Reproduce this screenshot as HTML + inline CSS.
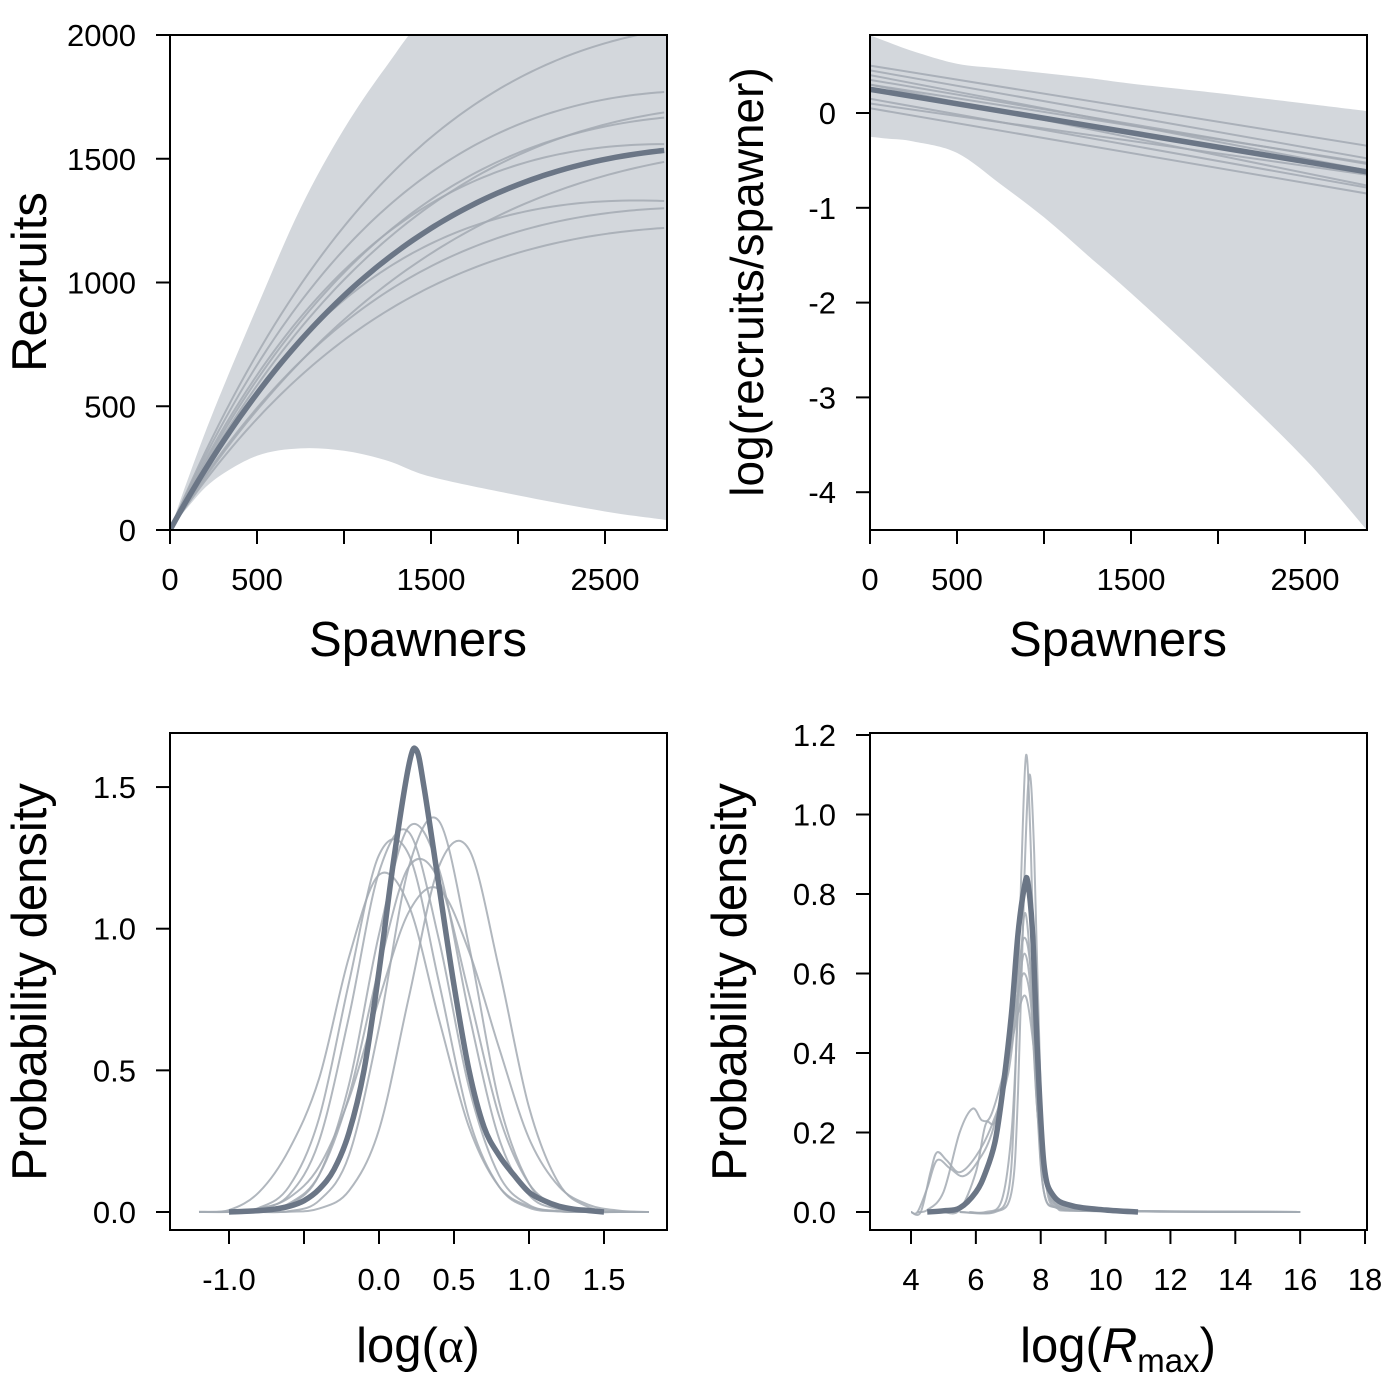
<!DOCTYPE html>
<html><head><meta charset="utf-8"><style>
html,body{margin:0;padding:0;background:#fff;}
svg{display:block;font-family:"Liberation Sans",sans-serif;}
</style></head><body>
<svg id="chart" width="1400" height="1400" viewBox="0 0 1400 1400" xmlns="http://www.w3.org/2000/svg">
<defs>
<clipPath id="c1"><rect x="170" y="35" width="497" height="495"/></clipPath>
<clipPath id="c2"><rect x="870" y="35" width="497" height="495"/></clipPath>
</defs>
</svg>
<script>
// ---- Panel 1/2: Ricker parameters (log alpha, beta x1e-4)
const medLogAlpha = 0.25;
const medBeta = 3.05;
const thinLogAlpha = [0.5, 0.45, 0.3, 0.35, 0.4, 0.1, 0.3, 0.15, 0.05];
const thinBeta = [2.96, 3.25, 2.89, 3.11, 3.52, 2.63, 3.73, 3.28, 3.15];
// credible band, panel 1 (recruits)
const bandS = [0, 100, 250, 500, 750, 1000, 1250, 1500, 2000, 2500, 2856];
const bandRUpper = [0, 200, 480, 900, 1300, 1620, 1880, 2100, 2400, 2500, 2600];
const bandRLower = [0, 90, 200, 300, 330, 320, 280, 215, 140, 75, 40];
// credible band, panel 2 (log R/S)
const bandLUpper = [0.82, 0.75, 0.65, 0.52, 0.47, 0.42, 0.37, 0.31, 0.21, 0.1, 0.02];
const bandLLower = [-0.25, -0.27, -0.3, -0.42, -0.75, -1.1, -1.5, -1.9, -2.75, -3.65, -4.4];
// ticks
const p1YTicks = [0, 500, 1000, 1500, 2000];
const spawnTicks = [0, 500, 1000, 1500, 2000, 2500];
const spawnLabels = ["0", "500", "", "1500", "", "2500"];
const p2YTicks = [0, -1, -2, -3, -4];
// ---- Panel 3: log(alpha) densities
const aGrid = [-1.2,-1.0,-0.8,-0.6,-0.4,-0.2,0,0.2,0.4,0.6,0.8,1.0,1.2,1.4,1.6,1.8];
const aThin = [
 [0,0.001,0.01,0.06,0.25,0.69,1.2,1.34,0.96,0.44,0.13,0.025,0.003,0,0,0],
 [0,0,0.003,0.025,0.13,0.45,0.98,1.36,1.21,0.70,0.26,0.06,0.01,0,0,0],
 [0,0,0,0.003,0.04,0.2,0.65,1.22,1.38,0.94,0.39,0.1,0.014,0.001,0,0],
 [0,0,0,0.001,0.012,0.075,0.29,0.76,1.22,1.28,0.86,0.37,0.10,0.017,0.002,0],
 [0,0,0.004,0.03,0.13,0.41,0.86,1.22,1.17,0.77,0.34,0.10,0.02,0.002,0,0],
 [0.001,0.007,0.07,0.22,0.47,0.9,1.19,1.08,0.68,0.3,0.09,0.02,0.002,0,0,0],
 [0,0.002,0.015,0.09,0.33,0.81,1.26,1.26,0.81,0.33,0.09,0.015,0.002,0,0,0],
 [0,0.001,0.012,0.05,0.16,0.4,0.75,1.06,1.14,0.92,0.58,0.26,0.09,0.025,0.005,0]
];
const aMedX = [-1.0,-0.9,-0.8,-0.7,-0.6,-0.5,-0.4,-0.3,-0.2,-0.1,0.0,0.1,0.2,0.25,0.3,0.4,0.5,0.6,0.7,0.8,0.9,1.0,1.1,1.2,1.3,1.4,1.5];
const aMedY = [0,0.002,0.005,0.01,0.02,0.04,0.08,0.15,0.28,0.5,0.85,1.25,1.58,1.63,1.5,1.15,0.8,0.5,0.3,0.2,0.13,0.07,0.04,0.02,0.01,0.005,0];
const p3XTicks = [-1.0,-0.5,0.0,0.5,1.0,1.5];
const p3XLabels = ["-1.0","","0.0","0.5","1.0","1.5"];
const p3YTicks = [0,0.5,1.0,1.5];
// ---- Panel 4: log(Rmax) densities
const rMedX = [4.5,5,5.5,6,6.3,6.6,6.85,7.1,7.3,7.5,7.6,7.75,7.9,8.1,8.4,9,10,11];
const rMedY = [0,0.003,0.01,0.05,0.1,0.18,0.32,0.5,0.7,0.82,0.83,0.7,0.4,0.12,0.04,0.015,0.005,0];
const rThinX = [
 [5.5,6.5,7,7.2,7.4,7.55,7.7,7.9,8.1,8.5,9,12,16],
 [5.8,6.6,7.1,7.3,7.5,7.65,7.8,8.0,8.2,8.6,9.2,12,16],
 [4.0,4.3,4.6,4.8,5.1,5.5,6,6.5,7,7.3,7.5,7.7,7.9,8.2,8.6,9.5,12,16],
 [4.2,4.5,5,5.5,5.9,6.2,6.5,7,7.3,7.5,7.7,7.9,8.2,8.6,10,13,16],
 [4.0,4.2,4.5,4.8,5.2,5.6,6,6.5,7,7.3,7.55,7.8,8,8.3,8.7,10,14],
 [5.0,5.5,6,6.3,6.6,7,7.3,7.5,7.7,7.9,8.2,8.6,10,15],
 [5.5,6.3,6.8,7.1,7.3,7.5,7.7,7.9,8.1,8.5,9.5,12,16]
];
const rThinY = [
 [0,0,0.05,0.3,0.85,1.15,0.9,0.3,0.05,0.01,0.003,0.001,0],
 [0,0,0.05,0.3,0.85,1.1,0.9,0.3,0.05,0.01,0.003,0.001,0],
 [0,0,0.1,0.15,0.13,0.1,0.14,0.22,0.35,0.55,0.65,0.55,0.25,0.06,0.02,0.005,0.002,0],
 [0,0.005,0.05,0.2,0.26,0.23,0.25,0.4,0.55,0.6,0.52,0.25,0.06,0.01,0.003,0.001,0],
 [0,0,0.06,0.13,0.11,0.09,0.12,0.2,0.38,0.5,0.54,0.4,0.2,0.05,0.01,0.003,0],
 [0,0.005,0.1,0.22,0.23,0.38,0.6,0.69,0.6,0.3,0.07,0.015,0.003,0],
 [0,0,0.03,0.2,0.5,0.75,0.6,0.25,0.05,0.01,0.003,0.001,0]
];
const p4XTicks = [4,6,8,10,12,14,16,18];
const p4YTicks = [0,0.2,0.4,0.6,0.8,1.0,1.2];

const NS = "http://www.w3.org/2000/svg";
const svg = document.getElementById("chart");
function mk(tag, attrs, parent) {
  const e = document.createElementNS(NS, tag);
  for (const k in attrs) e.setAttribute(k, attrs[k]);
  (parent || svg).appendChild(e);
  return e;
}
function smooth(pts) {
  let d = "M" + pts[0][0].toFixed(2) + "," + pts[0][1].toFixed(2);
  for (let i = 0; i < pts.length - 1; i++) {
    const p0 = pts[Math.max(i - 1, 0)], p1 = pts[i], p2 = pts[i + 1], p3 = pts[Math.min(i + 2, pts.length - 1)];
    const c1 = [p1[0] + (p2[0] - p0[0]) / 6, p1[1] + (p2[1] - p0[1]) / 6];
    const c2 = [p2[0] - (p3[0] - p1[0]) / 6, p2[1] - (p3[1] - p1[1]) / 6];
    d += "C" + c1[0].toFixed(2) + "," + c1[1].toFixed(2) + " " + c2[0].toFixed(2) + "," + c2[1].toFixed(2) + " " + p2[0].toFixed(2) + "," + p2[1].toFixed(2);
  }
  return d;
}
const THIN = "#a3aab3", THICK = "#6b7686", BAND = "#d3d7dc";

// scales
const x1 = s => 170 + s * 0.174;
const y1 = r => 530 - r * 0.2475;
const x2 = s => 870 + s * 0.174;
const y2 = v => 113 - v * 94.8;
const x3 = v => 379 + v * 150;
const y3 = v => 1212 - v * 283.3;
const x4 = v => 911 + (v - 4) * 32.43;
const y4 = v => 1212 - v * 397.5;

function frame(x, y, name) {
  const r = mk("rect", {x: x, y: y, width: 497, height: 495, fill: "none", stroke: "#000", "stroke-width": 2});
  
  
}
function xTicks(vals, labels, sx, name) {
  const g = mk("g", {});
  
  
  vals.forEach((v, i) => {
    const yb = name.indexOf("p3") === 0 || name.indexOf("p4") === 0 ? 1230 : 530;
    mk("line", {x1: sx(v), x2: sx(v), y1: yb, y2: yb + 14, stroke: "#000", "stroke-width": 2}, g);
    if (labels[i] !== "") {
      const t = mk("text", {x: sx(v), y: yb + 60, "text-anchor": "middle", "font-size": 31}, g);
      t.textContent = labels[i];
    }
  });
}
function yTicks(vals, labels, sy, xl, name) {
  const g = mk("g", {});
  
  
  vals.forEach((v, i) => {
    mk("line", {x1: xl, x2: xl - 14, y1: sy(v), y2: sy(v), stroke: "#000", "stroke-width": 2}, g);
    const t = mk("text", {x: xl - 34, y: sy(v) + 11, "text-anchor": "end", "font-size": 31}, g);
    t.textContent = labels[i];
  });
}
function title(x, y, txt, rot, name, size) {
  const t = mk("text", {x: x, y: y, "text-anchor": "middle", "font-size": size || 49, transform: rot ? "rotate(-90 " + x + " " + y + ")" : ""});
  t.innerHTML = txt;
  
  
  return t;
}

// ===== Panel 1
{
  const g = mk("g", {"clip-path": "url(#c1)"});
  
  
  const up = bandS.map((s, i) => [x1(s), y1(bandRUpper[i])]);
  const lo = bandS.map((s, i) => [x1(s), y1(bandRLower[i])]).reverse();
  const band = mk("path", {d: smooth(up) + "L" + smooth(lo).slice(1) + "Z", fill: BAND}, g);
  
  
  const S = []; for (let s = 0; s <= 2860; s += 40) S.push(s);
  thinLogAlpha.forEach((a, k) => {
    const pts = S.map(s => [x1(s), y1(s * Math.exp(a - thinBeta[k] * 1e-4 * s))]);
    const p = mk("path", {d: smooth(pts), fill: "none", stroke: THIN, "stroke-width": 2, opacity: 0.85}, g);
    
    
  });
  const pts = S.map(s => [x1(s), y1(s * Math.exp(medLogAlpha - medBeta * 1e-4 * s))]);
  const m = mk("path", {d: smooth(pts), fill: "none", stroke: THICK, "stroke-width": 5.5}, g);
  
  
}
frame(170, 35, 'recruits-plot-frame');
xTicks(spawnTicks, spawnLabels, x1, 'p1-x-axis');
yTicks(p1YTicks, p1YTicks.map(String), y1, 170, 'p1-y-axis');
title(418, 656, "Spawners", false, 'p1-x-axis-title');
title(46, 282, "Recruits", true, 'p1-y-axis-title');

// ===== Panel 2
{
  const g = mk("g", {"clip-path": "url(#c2)"});
  
  
  const up = bandS.map((s, i) => [x2(s), y2(bandLUpper[i])]);
  const lo = bandS.map((s, i) => [x2(s), y2(bandLLower[i])]).reverse();
  const band = mk("path", {d: smooth(up) + "L" + smooth(lo).slice(1) + "Z", fill: BAND}, g);
  
  
  thinLogAlpha.forEach((a, k) => {
    const l = mk("line", {x1: x2(0), y1: y2(a), x2: x2(2860), y2: y2(a - thinBeta[k] * 1e-4 * 2860), stroke: THIN, "stroke-width": 2, opacity: 0.85}, g);
    
    
  });
  const m = mk("line", {x1: x2(0), y1: y2(medLogAlpha), x2: x2(2860), y2: y2(medLogAlpha - medBeta * 1e-4 * 2860), stroke: THICK, "stroke-width": 5.5}, g);
  
  
}
frame(870, 35, 'log-rs-plot-frame');
xTicks(spawnTicks, spawnLabels, x2, 'p2-x-axis');
yTicks(p2YTicks, p2YTicks.map(String), y2, 870, 'p2-y-axis');
title(1118, 656, "Spawners", false, 'p2-x-axis-title');
title(763, 282, "log(recruits/spawner)", true, 'p2-y-axis-title', 46);

// ===== Panel 3
{
  const g = mk("g", {});
  
  
  aThin.forEach(ys => {
    const pts = aGrid.map((v, i) => [x3(v), y3(ys[i])]);
    const p = mk("path", {d: smooth(pts), fill: "none", stroke: THIN, "stroke-width": 2, opacity: 0.85}, g);
    
    
  });
  const pts = aMedX.map((v, i) => [x3(v), y3(aMedY[i])]);
  const m = mk("path", {d: smooth(pts), fill: "none", stroke: THICK, "stroke-width": 5.5}, g);
  
  
}
{
  const r = mk("rect", {x: 170, y: 733, width: 497, height: 497, fill: "none", stroke: "#000", "stroke-width": 2});
  
  
}
xTicks(p3XTicks, p3XLabels, x3, 'p3-x-axis');
yTicks(p3YTicks, p3YTicks.map(v => v.toFixed(1)), y3, 170, 'p3-y-axis');
title(418, 1362, 'log(<tspan font-family="Liberation Serif, serif">α</tspan>)', false, 'p3-x-axis-title');
title(46, 982, "Probability density", true, 'p3-y-axis-title');

// ===== Panel 4
{
  const g = mk("g", {});
  
  
  rThinX.forEach((xs, k) => {
    const pts = xs.map((v, i) => [x4(v), y4(rThinY[k][i])]);
    const p = mk("path", {d: smooth(pts), fill: "none", stroke: THIN, "stroke-width": 2, opacity: 0.85}, g);
    
    
  });
  const pts = rMedX.map((v, i) => [x4(v), y4(rMedY[i])]);
  const m = mk("path", {d: smooth(pts), fill: "none", stroke: THICK, "stroke-width": 5.5}, g);
  
  
}
{
  const r = mk("rect", {x: 870, y: 733, width: 497, height: 497, fill: "none", stroke: "#000", "stroke-width": 2});
  
  
}
xTicks(p4XTicks, p4XTicks.map(String), x4, 'p4-x-axis');
yTicks(p4YTicks, p4YTicks.map(v => v.toFixed(1)), y4, 870, 'p4-y-axis');
title(1118, 1362, 'log(<tspan font-style="italic">R</tspan><tspan font-size="33" dy="10">max</tspan><tspan dy="-10">)</tspan>', false, 'p4-x-axis-title');
title(746, 982, "Probability density", true, 'p4-y-axis-title');
</script>
</body></html>
